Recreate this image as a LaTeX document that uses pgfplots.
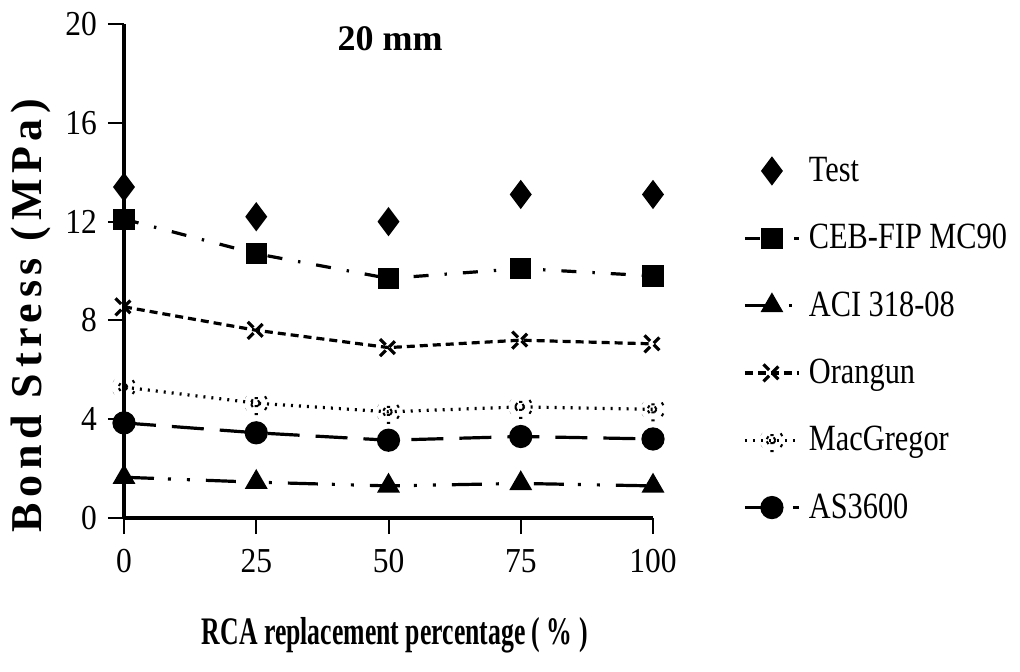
\documentclass[border=0pt]{standalone}
\usepackage{fontspec}
\setmainfont{Liberation Serif}
\newfontfamily\tickfont{Liberation Serif}[FakeStretch=0.9]
\newfontfamily\legfont{Liberation Serif}[FakeStretch=0.82]
\newfontfamily\xlabfont{Liberation Serif}[FakeStretch=0.66]
\newfontfamily\ylabfont{Liberation Serif}[LetterSpace=13]
\usepackage{pgfplots}
\pgfplotsset{compat=1.18}
\begin{document}
\begin{tikzpicture}
\useasboundingbox (-62pt,-76.5pt) rectangle (448pt,259pt);
\begin{axis}[
  scale only axis, width=264.5pt, height=247pt,
  xmin=0, xmax=100, ymin=0, ymax=20,
  axis x line*=bottom, axis y line*=left,
  axis line style={line width=2.4pt},
  xtick={0,25,50,75,100}, ytick={0,4,8,12,16,20},
  tick style={black, line width=1pt},
  major tick length=8pt,
  tick align=outside,
  /pgf/number format/assume math mode=true,
  ticklabel style={font=\tickfont\fontsize{17.5}{20}\selectfont},
  xticklabel style={yshift=-4pt},
  yticklabel style={xshift=-2pt},
  clip=false,
  title={\bfseries 20 mm},
  title style={at={(axis description cs:0.503,0.945)}, anchor=center, font=\fontsize{18}{20}\selectfont},
  xlabel={\xlabfont\bfseries RCA replacement percentage (\,\%\,)},
  xlabel style={at={(axis description cs:0.512,-0.237)}, anchor=center, font=\fontsize{19.5}{22}\selectfont},
  ylabel={\ylabfont\bfseries Bond Stress (MPa)},
  ylabel style={at={(axis description cs:-0.176,0.41)}, anchor=center, rotate=0, font=\fontsize{22}{24}\selectfont},
  legend style={draw=none, fill=none, at={(axis description cs:1.17,0.735)}, anchor=north west,
     font=\legfont\fontsize{18.5}{20}\selectfont, row sep=17.9pt, inner sep=0pt,
     nodes={inner sep=1pt}},
  legend cell align=left,
  legend image code/.code={\draw[mark repeat=2,mark phase=2,#1] plot coordinates {(0pt,0pt) (13.5pt,0pt) (27pt,0pt)};\path[draw=none] (27pt,0pt) -- (31pt,0pt);},
  every axis plot/.append style={black, line width=1.6pt, mark options={solid}},
]
\addplot[only marks, mark=diamond*, mark size=6pt] coordinates {(0,13.4) (25,12.2) (50,12.0) (75,13.1) (100,13.1)};
\addlegendentry{Test}
\addplot[mark=square*, mark size=4.5pt, dash pattern=on 7.5pt off 8pt on 1.2pt off 8pt] coordinates {(0,12.1) (25,10.7) (50,9.7) (75,10.1) (100,9.8)};
\addlegendentry{CEB-FIP MC90}
\addplot[mark=triangle*, mark size=5pt, dash pattern=on 15pt off 7pt on 1.5pt off 8pt on 1.5pt off 8pt] coordinates {(0,1.65) (25,1.45) (50,1.3) (75,1.4) (100,1.3)};
\addlegendentry{ACI 318-08}
\addplot[mark=x, mark size=6pt, mark options={line width=1.6pt}, dash pattern=on 4pt off 2.5pt] coordinates {(0,8.55) (25,7.6) (50,6.9) (75,7.2) (100,7.05)};
\addlegendentry{Orangun}
\addplot[mark=asterisk, mark size=6pt, mark options={line width=1.6pt}, dash pattern=on 1pt off 3pt] coordinates {(0,5.3) (25,4.65) (50,4.3) (75,4.5) (100,4.4)};
\addlegendentry{MacGregor}
\addplot[mark=*, mark size=5pt, dash pattern=on 16pt off 8pt] coordinates {(0,3.85) (25,3.45) (50,3.15) (75,3.3) (100,3.2)};
\addlegendentry{AS3600}
\end{axis}
\end{tikzpicture}
\end{document}
